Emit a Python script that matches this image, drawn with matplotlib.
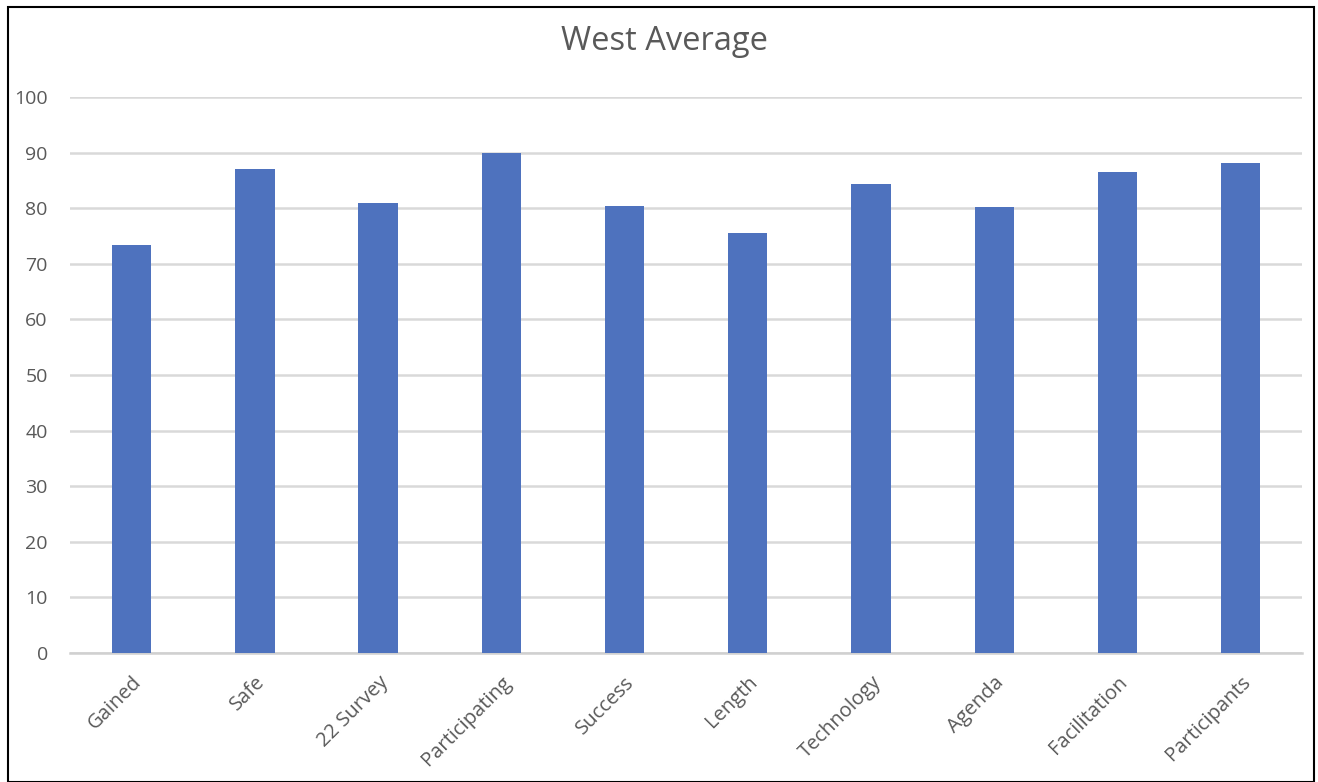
import matplotlib.pyplot as plt
from matplotlib.patches import Rectangle

# ===== data =====
categories = ['Gained', 'Safe', '22 Survey', 'Participating', 'Success',
              'Length', 'Technology', 'Agenda', 'Facilitation', 'Participants']
values = [73.3, 87.0, 80.9, 90.0, 80.4, 75.6, 84.4, 80.2, 86.5, 88.2]
yticks = [0, 10, 20, 30, 40, 50, 60, 70, 80, 90, 100]

plt.rcParams['font.family'] = ['Open Sans', 'DejaVu Sans']
text_grey = '#595959'

fig = plt.figure(figsize=(13.18, 7.82), dpi=100)
ax = fig.add_axes([0.0531, 0.165, 0.935, 0.711])

x = range(len(categories))
ax.bar(x, values, width=0.32, color='#4e72be', zorder=3)

ax.set_xlim(-0.5, len(categories) - 0.5)
ax.set_ylim(0, 100)
ax.set_yticks(yticks)
ax.set_xticks(list(x))
ax.set_xticklabels(categories, rotation=45, ha='right', rotation_mode='anchor')

ax.grid(axis='y', color='#d9d9d9', linewidth=1.8, zorder=0)
for s in ['left', 'right', 'top']:
    ax.spines[s].set_visible(False)
ax.spines['bottom'].set_color('#d0d0d0')
ax.spines['bottom'].set_linewidth(1.8)
ax.tick_params(axis='both', length=0, colors=text_grey)
ax.tick_params(axis='x', pad=14, labelsize=14.5)
ax.tick_params(axis='y', pad=16, labelsize=14)

fig.text(0.504, 0.947, 'West Average', ha='center', va='center',
         fontsize=23.5, color=text_grey)

# outer chart frame
fig.patches.append(Rectangle((0.006, 0.0), 0.991, 0.991, transform=fig.transFigure,
                             fill=False, edgecolor='black', linewidth=1.5))

fig.savefig('out.png', dpi=100)
